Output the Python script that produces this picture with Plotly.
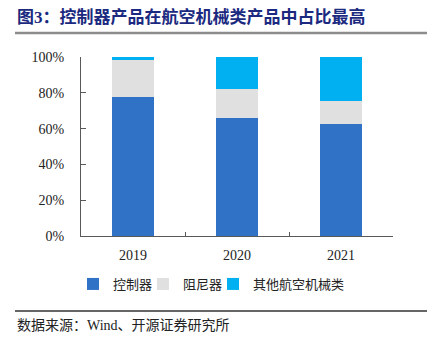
import plotly.graph_objects as go

years = ["2019", "2020", "2021"]
controller = [77.5, 65.8, 62.3]
damper = [21.0, 16.2, 13.0]
other = [1.5, 18.0, 24.7]
series_names = ["控制器", "阻尼器", "其他航空机械类"]
colors = ["#3072C5", "#E0E0E0", "#00B0F0"]

W, H = 431, 342
L, R, T, B = 81, 38, 57, 106
pw, ph = W - L - R, H - T - B

def px(x):
    return (x - L) / pw

def py(y):
    return (H - B - y) / ph

font_fam = "Liberation Serif, Noto Sans CJK SC"
legend_ids = ["legend", "legend2", "legend3"]
legend_left = [73, 143, 213]

fig = go.Figure()
for name, vals, c, lid in zip(series_names, [controller, damper, other], colors, legend_ids):
    fig.add_trace(go.Bar(x=years, y=vals, name=name, legend=lid,
                         marker=dict(color=c, line=dict(width=0))))

legend_style = {}
for lid, lx in zip(legend_ids, legend_left):
    legend_style[lid] = dict(orientation="h", x=px(lx), xanchor="left", y=py(284), yanchor="middle",
                             font=dict(size=13, family=font_fam), itemwidth=30,
                             bgcolor="rgba(0,0,0,0)")

fig.update_layout(
    width=W, height=H,
    margin=dict(l=L, r=R, t=T, b=B, pad=0),
    barmode="stack", bargap=0.6,
    paper_bgcolor="white", plot_bgcolor="white",
    font=dict(family=font_fam, size=14, color="#222222"),
    showlegend=True,
    xaxis=dict(showline=True, linecolor="#595959", linewidth=1, ticks="inside", ticklen=4,
               tickcolor="#595959", tickson="boundaries", tickfont=dict(size=14, family=font_fam),
               showgrid=False, fixedrange=True, ticklabelstandoff=6),
    yaxis=dict(range=[0, 100], tickvals=[0, 20, 40, 60, 80, 100], ticktext=["0%", "20%", "40%", "60%", "80%", "100%"],
               showline=True, linecolor="#595959", linewidth=1, ticks="inside", ticklen=5,
               tickcolor="#595959", showgrid=False, zeroline=False, ticklabelstandoff=13,
               tickfont=dict(size=14, family=font_fam)),
    **legend_style,
)

fig.add_annotation(text="<b>图3：控制器产品在航空机械类产品中占比最高</b>", xref="paper", yref="paper",
                   x=px(15), y=py(17), xanchor="left", yanchor="middle", showarrow=False,
                   font=dict(size=17, color="#1B2A80", family="Liberation Serif, Noto Sans CJK SC"))
fig.add_shape(type="line", xref="paper", yref="paper", x0=px(15), x1=px(427), y0=py(33), y1=py(33),
              line=dict(color="#8C8C8C", width=2.5))
fig.add_shape(type="line", xref="paper", yref="paper", x0=px(15), x1=px(427), y0=py(311), y1=py(311),
              line=dict(color="#333333", width=1.5))
fig.add_annotation(text="数据来源：Wind、开源证券研究所", xref="paper", yref="paper",
                   x=px(15), y=py(325), xanchor="left", yanchor="middle", showarrow=False,
                   font=dict(size=14, color="#222222", family=font_fam))

fig.write_html("out.html", config={"displayModeBar": False})
